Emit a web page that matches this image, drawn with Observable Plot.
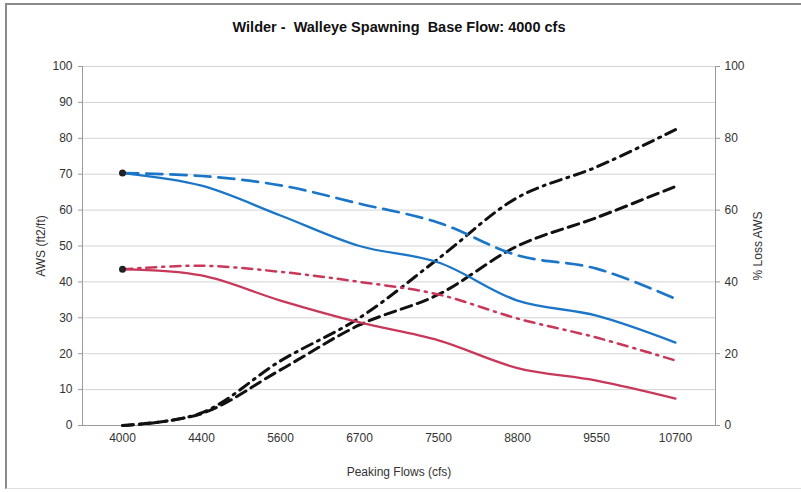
<!DOCTYPE html>
<html>
<head>
<meta charset="utf-8">
<script src="https://cdn.jsdelivr.net/npm/d3@7"></script>
<script src="https://cdn.jsdelivr.net/npm/@observablehq/plot@0.6"></script>
<style>
  html, body { margin: 0; padding: 0; background: #fff; }
  #wrap { position: relative; width: 801px; height: 492px; overflow: hidden; }
  #frame { position: absolute; left: 5px; top: 3px; width: 796px; height: 486px;
           border-top: 2px solid #8a8a8a; border-left: 2px solid #8a8a8a; border-bottom: 1px solid #e0e0e0; box-sizing: border-box; pointer-events: none; }
  svg { font-family: "Liberation Sans", Arial, sans-serif; }
</style>
</head>
<body>
<div id="wrap"><div id="frame"></div></div>
<script>
const titleText = "Wilder -  Walleye Spawning  Base Flow: 4000 cfs";
const categories = ["4000", "4400", "5600", "6700", "7500", "8800", "9550", "10700"];
const awsBlueSolid  = [70.3, 66.8, 58.5, 50.0, 45.4, 34.8, 30.6, 23.1];
const awsBlueDash   = [70.3, 69.5, 66.9, 61.8, 56.5, 47.4, 43.7, 35.3];
const awsRedSolid   = [43.5, 41.8, 34.8, 28.7, 23.7, 16.0, 12.5, 7.5];
const awsRedDashDot = [43.5, 44.5, 42.8, 40.0, 36.5, 29.8, 24.5, 18.1];
const lossDash      = [0, 3.3, 15.5, 28.0, 36.5, 50.0, 57.9, 66.6];
const lossDashDot   = [0, 3.5, 18.0, 30.0, 46.5, 63.5, 72.0, 82.4];
const leftTicks  = [0, 10, 20, 30, 40, 50, 60, 70, 80, 90, 100];
const rightTicks = [0, 20, 40, 60, 80, 100];

const toRows = (vals) => categories.map((c, i) => ({x: c, y: vals[i]}));
const blue = "#1c76c8", red = "#c8385a";

const chart = Plot.plot({
  width: 801,
  height: 492,
  marginLeft: 82,
  marginRight: 86,
  marginTop: 66,
  marginBottom: 67,
  style: {fontFamily: "'Liberation Sans', Arial, sans-serif", fontSize: "12px", color: "#333", background: "transparent"},
  x: {type: "point", domain: categories, padding: 0.5},
  y: {domain: [0, 100]},
  marks: [
    Plot.ruleY(leftTicks.filter(d => d > 0), {stroke: "#d4d4d4", strokeWidth: 1}),
    Plot.frame({anchor: "left", stroke: "#9a9a9a"}),
    Plot.frame({anchor: "right", stroke: "#9a9a9a"}),
    Plot.frame({anchor: "bottom", stroke: "#9a9a9a"}),
    Plot.axisY({anchor: "left", ticks: leftTicks, tickSize: 4, tickPadding: 6, stroke: "#9a9a9a",
      label: "AWS (ft2/ft)", labelAnchor: "center", labelArrow: "none", labelOffset: 46}),
    Plot.axisY({anchor: "right", ticks: rightTicks, tickSize: 4, tickPadding: 5, stroke: "#9a9a9a",
      label: "% Loss AWS", labelAnchor: "center", labelArrow: "none", labelOffset: 46}),
    Plot.axisX({tickSize: 0, tickPadding: 8, label: "Peaking Flows (cfs)", labelAnchor: "center", labelArrow: "none", labelOffset: 50}),
    Plot.line(toRows(lossDashDot), {x: "x", y: "y", stroke: "#111", strokeWidth: 3, strokeDasharray: "11,6,2,6", curve: "catmull-rom"}),
    Plot.line(toRows(lossDash), {x: "x", y: "y", stroke: "#111", strokeWidth: 3, strokeDasharray: "11,6", curve: "catmull-rom"}),
    Plot.line(toRows(awsRedDashDot), {x: "x", y: "y", stroke: red, strokeWidth: 2.5, strokeDasharray: "10,6,2,6", curve: "catmull-rom"}),
    Plot.line(toRows(awsRedSolid), {x: "x", y: "y", stroke: red, strokeWidth: 2.3, curve: "catmull-rom"}),
    Plot.line(toRows(awsBlueDash), {x: "x", y: "y", stroke: blue, strokeWidth: 2.7, strokeDasharray: "16,8", curve: "catmull-rom"}),
    Plot.line(toRows(awsBlueSolid), {x: "x", y: "y", stroke: blue, strokeWidth: 2.3, curve: "catmull-rom"}),
    Plot.dot([toRows(awsBlueSolid)[0], toRows(awsRedSolid)[0]], {x: "x", y: "y", r: 3.5, fill: "#222", stroke: "none"}),
    Plot.text([titleText], {frameAnchor: "top", dy: -39, lineAnchor: "middle", fontWeight: "bold", fontSize: 14.5, fill: "#111"})
  ]
});
document.getElementById("wrap").prepend(chart);
</script>
</body>
</html>
